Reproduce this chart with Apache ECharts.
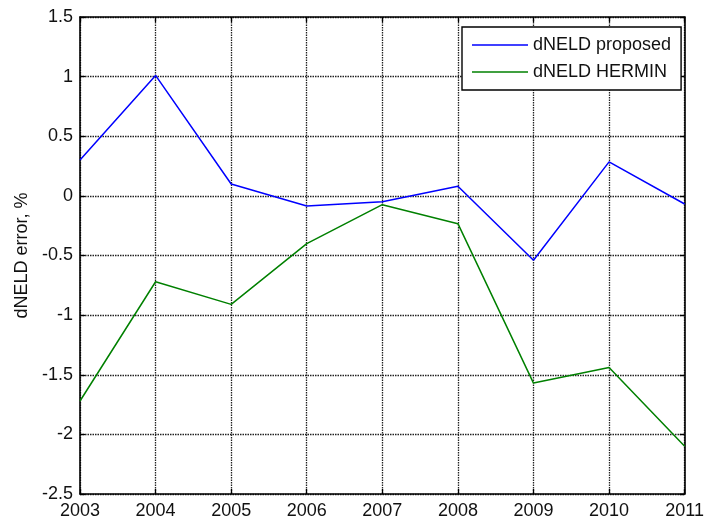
<!DOCTYPE html>
<html>
<head>
<meta charset="utf-8">
<script src="https://cdn.jsdelivr.net/npm/echarts@6/dist/echarts.min.js"></script>
<style>
  html, body { margin: 0; padding: 0; background: #fff; }
  #chart { width: 707px; height: 523px; }
</style>
</head>
<body>
<div id="chart"></div>
<script>
// Years on the horizontal axis
const years = [2003, 2004, 2005, 2006, 2007, 2008, 2009, 2010, 2011];
// dNELD error, % for each method
const proposed = [0.30, 1.01, 0.10, -0.085, -0.05, 0.08, -0.54, 0.285, -0.068];
const hermin = [-1.72, -0.72, -0.91, -0.40, -0.074, -0.233, -1.57, -1.44, -2.10];
const seriesNames = ['dNELD proposed', 'dNELD HERMIN'];
const yTicks = { min: -2.5, max: 1.5, step: 0.5 };

const font = '"Liberation Sans", Arial, sans-serif';
const ink = '#111';
const fs = 18;

function pairs(vals) {
  return years.map((y, i) => [y, vals[i]]);
}

const chart = echarts.init(document.getElementById('chart'), null, { renderer: 'canvas' });

const frameLine = { show: true, onZero: false, lineStyle: { color: '#000', width: 1.6 } };
const frameTick = { show: true, inside: true, length: 5, lineStyle: { color: '#000', width: 1.3 } };
const gridLine = { show: true, lineStyle: { color: '#222', type: [1.5, 1], width: 1.3 } };

const boxAxisCommon = {
  axisLine: frameLine,
  axisTick: frameTick,
  axisLabel: { show: false },
  splitLine: { show: false }
};

chart.setOption({
  animation: false,
  backgroundColor: '#fff',
  textStyle: { fontFamily: font },
  grid: { left: 80, right: 20, top: 17, bottom: 29 },
  legend: {
    left: 462,
    top: 27,
    orient: 'vertical',
    data: seriesNames.map(n => ({ name: n, icon: 'rect' })),
    itemWidth: 56,
    itemHeight: 1.6,
    itemGap: 9,
    itemStyle: { borderWidth: 0 },
    padding: [9, 10, 9, 10],
    borderColor: '#000',
    borderWidth: 1.4,
    backgroundColor: '#fff',
    textStyle: { fontFamily: font, fontSize: fs, color: ink, lineHeight: 16 },
    selectedMode: false
  },
  xAxis: [
    {
      type: 'value',
      min: years[0],
      max: years[years.length - 1],
      interval: 1,
      position: 'bottom',
      axisLine: frameLine,
      axisTick: frameTick,
      axisLabel: {
        color: ink, fontSize: fs, fontFamily: font, margin: 8,
        formatter: v => String(v)
      },
      splitLine: gridLine
    },
    Object.assign({
      type: 'value', min: years[0], max: years[years.length - 1], interval: 1, position: 'top'
    }, boxAxisCommon)
  ],
  yAxis: [
    {
      type: 'value',
      min: yTicks.min,
      max: yTicks.max,
      interval: yTicks.step,
      position: 'left',
      name: 'dNELD error, %',
      nameLocation: 'middle',
      nameGap: 47,
      nameRotate: 90,
      nameTextStyle: { color: ink, fontSize: fs, fontFamily: font },
      axisLine: frameLine,
      axisTick: frameTick,
      axisLabel: { color: ink, fontSize: fs, fontFamily: font, margin: 7 },
      splitLine: gridLine
    },
    Object.assign({
      type: 'value', min: yTicks.min, max: yTicks.max, interval: yTicks.step, position: 'right'
    }, boxAxisCommon)
  ],
  series: [
    {
      name: seriesNames[0],
      type: 'line',
      data: pairs(proposed),
      symbol: 'none',
      color: '#0000ff',
      lineStyle: { color: '#0000ff', width: 1.5 },
      z: 3
    },
    {
      name: seriesNames[1],
      type: 'line',
      data: pairs(hermin),
      symbol: 'none',
      color: '#008000',
      lineStyle: { color: '#008000', width: 1.5 },
      z: 2
    }
  ]
});
</script>
</body>
</html>
